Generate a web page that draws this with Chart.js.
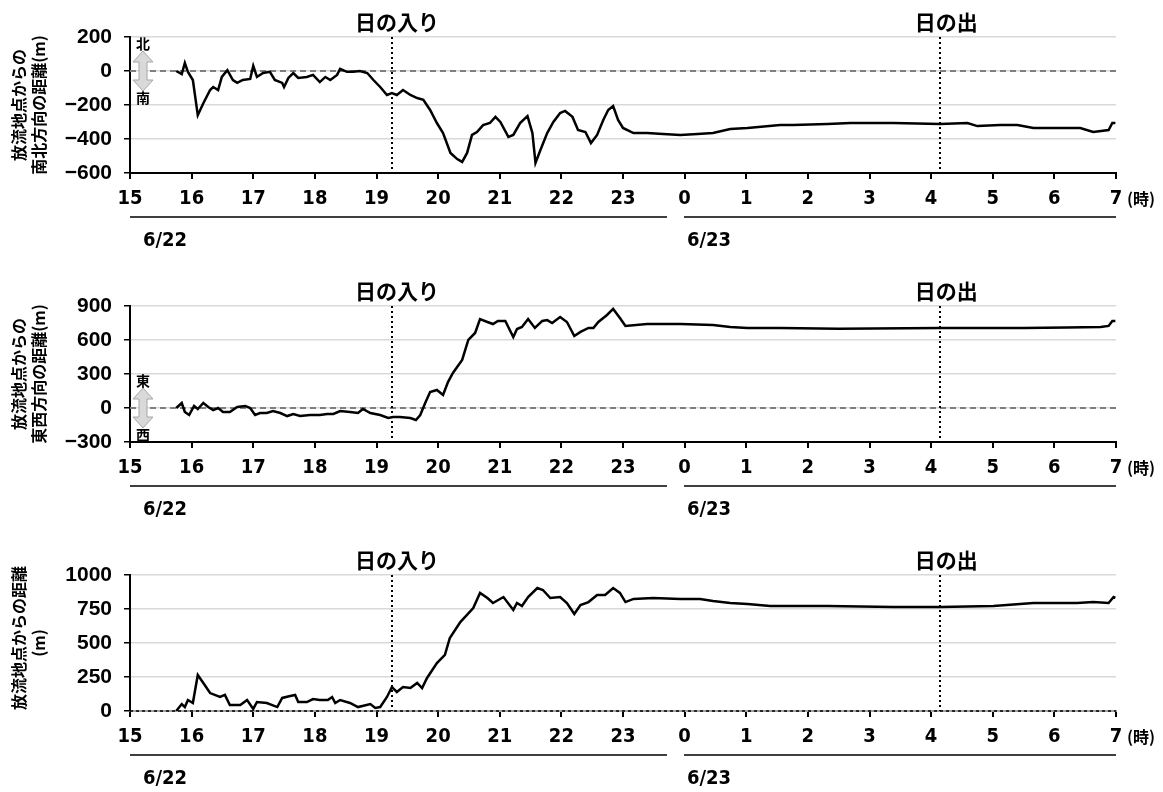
<!DOCTYPE html>
<html><head><meta charset="utf-8">
<script src="https://cdn.jsdelivr.net/npm/chart.js@4.4.0/dist/chart.umd.min.js"></script>
<style>
html,body{margin:0;padding:0;background:#fff;overflow:hidden;width:1163px;height:792px;}
.p{position:absolute;left:0;width:1163px;height:254px;}
canvas{display:block;}
</style></head><body>
<div class="p" style="top:0px"><canvas id="c1" width="1163" height="254"></canvas></div>
<div class="p" style="top:269px"><canvas id="c2" width="1163" height="254"></canvas></div>
<div class="p" style="top:538px"><canvas id="c3" width="1163" height="254"></canvas></div>
<script>
// ---- data (hours since 0:00 on 6/22; values after midnight are 24+) ----
const nsTimes = [15.75,15.84,15.89,15.94,16.02,16.10,16.19,16.30,16.35,16.43,16.49,16.58,16.67,16.74,16.83,16.95,17.00,17.06,17.16,17.27,17.35,17.47,17.50,17.57,17.65,17.73,17.87,17.97,18.08,18.17,18.25,18.36,18.41,18.52,18.62,18.73,18.85,18.95,19.06,19.17,19.25,19.33,19.43,19.55,19.66,19.76,19.87,19.98,20.08,20.20,20.31,20.39,20.47,20.55,20.63,20.73,20.84,20.93,21.01,21.14,21.22,21.33,21.45,21.53,21.58,21.66,21.77,21.87,21.98,22.06,22.18,22.27,22.39,22.48,22.58,22.68,22.76,22.84,22.92,23.00,23.17,23.39,23.65,23.93,24.21,24.46,24.74,25.02,25.55,25.76,26.32,26.69,27.39,28.15,28.59,28.75,29.12,29.40,29.66,30.10,30.42,30.63,30.88,30.94,30.99];
const nsValues = [0,-18,47,-5,-53,-260,-190,-112,-94,-112,-35,5,-53,-70,-53,-47,30,-35,-12,-5,-53,-70,-94,-41,-12,-41,-35,-23,-65,-35,-53,-23,12,-5,-5,0,-12,-53,-94,-141,-130,-141,-112,-141,-159,-170,-229,-306,-365,-482,-518,-535,-482,-376,-359,-318,-306,-270,-300,-388,-376,-306,-265,-365,-541,-465,-365,-300,-247,-235,-270,-347,-359,-424,-376,-288,-229,-206,-288,-335,-365,-365,-371,-376,-371,-365,-341,-335,-318,-318,-312,-306,-306,-312,-306,-324,-318,-318,-335,-335,-335,-359,-347,-306,-306];

const ewTimes = [15.75,15.84,15.89,15.96,16.04,16.10,16.19,16.27,16.35,16.43,16.51,16.62,16.74,16.87,16.95,17.03,17.11,17.22,17.32,17.44,17.55,17.65,17.76,17.92,18.08,18.20,18.30,18.41,18.57,18.70,18.78,18.90,19.06,19.19,19.27,19.38,19.55,19.64,19.71,19.79,19.87,19.98,20.08,20.16,20.24,20.39,20.49,20.60,20.68,20.80,20.89,20.97,21.09,21.22,21.28,21.36,21.46,21.57,21.69,21.77,21.85,21.98,22.09,22.21,22.31,22.44,22.52,22.60,22.74,22.84,22.95,23.04,23.39,23.93,24.46,24.74,25.02,25.55,26.50,28.15,29.50,30.20,30.75,30.88,30.94,30.99];
const ewValues = [0,44,-35,-62,18,-9,44,9,-18,0,-35,-35,9,18,0,-62,-44,-44,-27,-44,-71,-53,-71,-62,-62,-53,-53,-27,-35,-44,-9,-44,-62,-88,-80,-80,-88,-106,-62,44,141,159,115,229,309,424,600,662,785,759,741,768,768,626,697,715,785,706,768,776,750,803,759,635,671,706,706,759,821,874,794,724,741,741,732,715,706,706,700,706,706,710,715,724,768,768];

const distTimes = [15.75,15.84,15.89,15.94,16.02,16.10,16.19,16.30,16.46,16.54,16.62,16.79,16.90,17.00,17.06,17.22,17.39,17.47,17.60,17.68,17.73,17.87,17.97,18.08,18.21,18.28,18.33,18.41,18.57,18.70,18.90,18.98,19.06,19.17,19.25,19.33,19.43,19.55,19.66,19.74,19.82,19.98,20.11,20.19,20.36,20.57,20.68,20.80,20.89,21.06,21.22,21.28,21.36,21.46,21.61,21.70,21.82,21.98,22.09,22.21,22.31,22.44,22.58,22.71,22.84,22.95,23.04,23.17,23.49,23.93,24.25,24.46,24.74,25.02,25.39,26.32,27.39,28.15,29.01,29.66,30.37,30.63,30.88,30.96,30.99];
const distValues = [0,51,29,81,59,265,206,132,103,118,44,44,81,15,66,59,29,96,110,118,66,66,88,81,81,103,59,81,59,29,51,22,29,103,176,140,176,169,206,169,243,353,412,537,654,757,868,831,794,838,743,794,772,838,904,890,831,838,794,713,779,801,853,853,904,868,801,824,831,824,824,809,794,787,772,772,765,765,772,794,794,801,794,838,831];

const sunsetTime = 19.25;     // 日の入り
const sunriseTime = 28.15;    // 日の出 (4:09, 6/23)
const eventLabels = ['日の入り', '日の出'];
const dateLabels = ['6/22', '6/23'];
const hourUnit = '(時)';
const nsTitle = ['放流地点からの', '南北方向の距離(m)'];
const ewTitle = ['放流地点からの', '東西方向の距離(m)'];
const distTitle = ['放流地点からの距離', '(m)'];
const nsDirs = ['北', '南'];
const ewDirs = ['東', '西'];

const JP = '"Noto Sans CJK JP","Noto Sans CJK SC",sans-serif';
const NUM = '"Liberation Sans",Arial,sans-serif';
const NARROW = '"Liberation Sans Narrow","DejaVu Sans Condensed","Liberation Sans",sans-serif';

function drawArrow(ctx, x, y1, y2) {
  const hw = 10, sw = 4, hl = 11;
  ctx.beginPath();
  ctx.moveTo(x, y1);
  ctx.lineTo(x + hw, y1 + hl);
  ctx.lineTo(x + sw, y1 + hl);
  ctx.lineTo(x + sw, y2 - hl);
  ctx.lineTo(x + hw, y2 - hl);
  ctx.lineTo(x, y2);
  ctx.lineTo(x - hw, y2 - hl);
  ctx.lineTo(x - sw, y2 - hl);
  ctx.lineTo(x - sw, y1 + hl);
  ctx.lineTo(x - hw, y1 + hl);
  ctx.closePath();
  ctx.fillStyle = '#d9d9d9';
  ctx.fill();
  ctx.strokeStyle = '#a6a6a6';
  ctx.lineWidth = 1;
  ctx.stroke();
}

const decor = {
  id: 'decor',
  beforeDatasetsDraw(chart, args, opts) {
    const ctx = chart.ctx, a = chart.chartArea, xs = chart.scales.x, ys = chart.scales.y;
    ctx.save();
    if (opts.zeroDash) {
      const y0 = ys.getPixelForValue(0);
      ctx.strokeStyle = '#7f7f7f';
      ctx.lineWidth = 2;
      ctx.setLineDash([6, 4]);
      ctx.beginPath(); ctx.moveTo(a.left, y0); ctx.lineTo(a.right, y0); ctx.stroke();
    }
    ctx.strokeStyle = '#000';
    ctx.lineWidth = 2;
    ctx.setLineDash([2, 3]);
    [sunsetTime, sunriseTime].forEach(t => {
      const x = Math.round(xs.getPixelForValue(t));
      ctx.beginPath(); ctx.moveTo(x, a.top); ctx.lineTo(x, a.bottom); ctx.stroke();
    });
    ctx.restore();
  },
  afterDatasetsDraw(chart, args, opts) {
    const ctx = chart.ctx, a = chart.chartArea, xs = chart.scales.x, ys = chart.scales.y;
    ctx.save();
    if (opts.bottomDotted) {
      ctx.strokeStyle = '#000';
      ctx.lineWidth = 1.5;
      ctx.setLineDash([3, 3]);
      ctx.beginPath(); ctx.moveTo(a.left, a.bottom); ctx.lineTo(a.right, a.bottom); ctx.stroke();
      ctx.setLineDash([]);
    }
    ctx.fillStyle = '#000';
    ctx.font = 'bold 21px ' + JP;
    ctx.textAlign = 'center';
    ctx.textBaseline = 'middle';
    ctx.fillText(eventLabels[0], xs.getPixelForValue(sunsetTime) + 5, 22);
    ctx.fillText(eventLabels[1], xs.getPixelForValue(sunriseTime) + 6, 22);
    if (opts.dirs) {
      const y0 = ys.getPixelForValue(0);
      drawArrow(ctx, 143, y0 - 20, y0 + 20);
      ctx.fillStyle = '#000';
      ctx.font = 'bold 14px ' + JP;
      ctx.fillText(opts.dirs[0], 143, y0 - 27);
      ctx.fillText(opts.dirs[1], 143, y0 + 27);
    }
    const cy = (a.top + a.bottom) / 2;
    ctx.font = 'bold 16px ' + JP;
    opts.title.forEach((line, i) => {
      ctx.save();
      ctx.translate(i === 0 ? 18.5 : 39, cy + (opts.titleShift ? opts.titleShift[i] : 0));
      ctx.rotate(-Math.PI / 2);
      ctx.fillText(line, 0, 0);
      ctx.restore();
    });
    ctx.strokeStyle = '#000';
    ctx.lineWidth = 1.5;
    ctx.beginPath();
    ctx.moveTo(a.left, 217); ctx.lineTo(667, 217);
    ctx.moveTo(684, 217); ctx.lineTo(a.right, 217);
    ctx.stroke();
    ctx.font = 'bold 20px ' + NARROW;
    ctx.textAlign = 'left';
    ctx.fillText(dateLabels[0], 143, 241);
    ctx.fillText(dateLabels[1], 687, 241);
    ctx.font = 'bold 16px ' + JP;
    ctx.fillText(hourUnit, 1127, 199);
    ctx.restore();
  }
};

function fmtY(v) { return v < 0 ? '\u2212' + Math.abs(v) : String(v); }

function makeChart(id, times, values, ymin, ymax, step, opts) {
  const data = times.map((t, i) => ({ x: t, y: values[i] }));
  return new Chart(document.getElementById(id), {
    type: 'line',
    data: { datasets: [{ data, borderColor: '#000', borderWidth: 2.5, pointRadius: 0, tension: 0, fill: false }] },
    options: {
      responsive: false,
      animation: false,
      devicePixelRatio: 1,
      layout: { padding: { left: 0, right: 47, top: 37, bottom: 0 } },
      plugins: { legend: { display: false }, tooltip: { enabled: false }, decor: opts },
      scales: {
        x: {
          type: 'linear', min: 15, max: 31,
          afterFit(s) { s.height = 81; },
          border: { color: opts.bottomDotted ? '#a0a0a0' : '#000', width: 2 },
          grid: { drawOnChartArea: false, drawTicks: true, tickLength: 6, tickColor: '#000', lineWidth: 2 },
          ticks: { stepSize: 1, autoSkip: false, maxRotation: 0, padding: 8, color: '#000',
            font: { family: NARROW, size: 20, weight: 'bold' },
            callback: v => String(v % 24) }
        },
        y: {
          min: ymin, max: ymax,
          afterFit(s) { s.width = 130; },
          border: { color: '#000', width: 2 },
          grid: { color: '#d9d9d9', lineWidth: 1.5, tickLength: 6, tickColor: '#000' },
          ticks: { stepSize: step, padding: 12, color: '#000',
            font: { family: NUM, size: 21, weight: 'bold' }, callback: fmtY }
        }
      }
    },
    plugins: [decor]
  });
}

makeChart('c1', nsTimes, nsValues, -600, 200, 200, { zeroDash: true, dirs: nsDirs, title: nsTitle });
makeChart('c2', ewTimes, ewValues, -300, 900, 300, { zeroDash: true, dirs: ewDirs, title: ewTitle });
makeChart('c3', distTimes, distValues, 0, 1000, 250, { bottomDotted: true, title: distTitle, titleShift: [-5, 0] });
</script>
</body></html>
